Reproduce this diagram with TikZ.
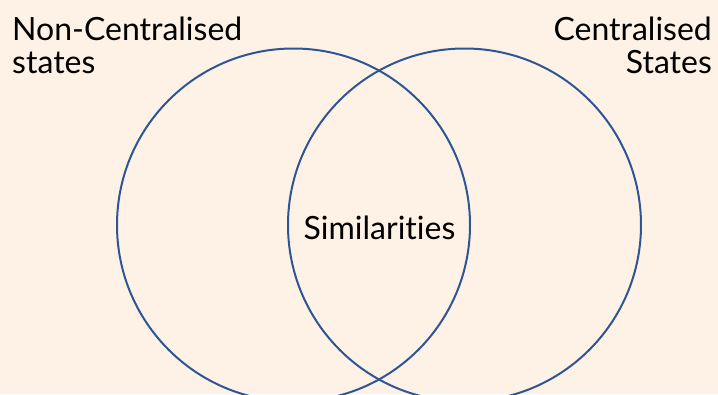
\documentclass[tikz,border=0pt]{standalone}
\usepackage{fontspec}
\setmainfont{Lato}[Ligatures=NoCommon]
\definecolor{bgpeach}{HTML}{FEF2E6}
\definecolor{ringblue}{HTML}{2F5597}
\begin{document}
\begin{tikzpicture}[x=1pt,y=-1pt,
  ring/.style={draw=ringblue,line width=2pt},
  lbl/.style={inner sep=0pt,font=\fontsize{32}{33}\selectfont,text=black}]
\fill[bgpeach] (0,0) rectangle (718,394);
\useasboundingbox (0,0) rectangle (718,394);
\begin{scope}
\clip (0,0) rectangle (718,394);
\node[ring,circle,minimum size=353pt,inner sep=0pt] (left) at (293.5,225) {};
\node[ring,circle,minimum size=353pt,inner sep=0pt] (right) at (464.5,225) {};
\end{scope}
\node[lbl,anchor=base west,align=left] (nc) at (12,73) {Non-Centralised\\states};
\node[lbl,anchor=base east,align=right] (c) at (712,73) {Centralised\\States};
\node[lbl,anchor=base] (sim) at (379.5,239) {Similarities};
\end{tikzpicture}
\end{document}
